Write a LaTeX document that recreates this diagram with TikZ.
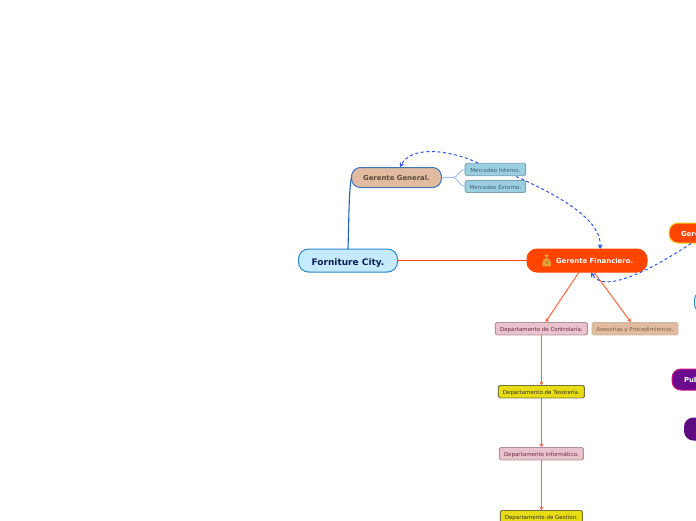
\documentclass[tikz,border=0pt]{standalone}
\usepackage{fontspec}
\setmainfont{DejaVu Sans}
\usetikzlibrary{arrows.meta}
\definecolor{orangeL}{HTML}{FF4500}
\definecolor{linkO}{HTML}{F9653C}
\definecolor{linkB}{HTML}{2A55F0}
\definecolor{tan}{HTML}{E0BBA0}
\definecolor{tanEdge}{HTML}{CDB6A0}
\definecolor{pinkish}{HTML}{E8C2CC}
\definecolor{pinkEdge}{HTML}{B58F9A}
\definecolor{teal}{HTML}{9BCFDF}
\definecolor{tealEdge}{HTML}{7FA3B3}
\definecolor{tealText}{HTML}{3F5F78}
\definecolor{yel}{HTML}{E8DC14}
\definecolor{yelEdge}{HTML}{77743A}
\definecolor{sky}{HTML}{C5EAFD}
\definecolor{skyEdge}{HTML}{2D86C8}
\definecolor{navyT}{HTML}{0B1F55}
\definecolor{ggEdge}{HTML}{3A72C0}
\definecolor{ggText}{HTML}{5A4A3A}
\definecolor{pinkT}{HTML}{6E2A40}
\definecolor{tanT}{HTML}{7A5F4A}
\definecolor{purA}{HTML}{6A0A8C}
\definecolor{purB}{HTML}{5E0A80}
\definecolor{magEdge}{HTML}{D0107A}
\definecolor{yelRim}{HTML}{F0D020}
\definecolor{mercL}{HTML}{9CC0F0}
\definecolor{bag}{HTML}{E9A23B}
\definecolor{bagD}{HTML}{A8702A}
\definecolor{fcLine}{HTML}{1A62C8}
\tikzset{
 x=1pt,y=-1pt,
 base/.style={inner sep=0pt,outer sep=0pt,align=center,anchor=center},
 topic/.style={base,draw,line width=1pt,rounded corners=9pt,text height=6pt,text depth=0pt},
 leaf/.style={base,draw,line width=.9pt,rounded corners=1.5pt,text height=5.5pt,text depth=0pt,font=\fontsize{5.5}{6}\selectfont},
 overlay text/.style={base,anchor=west,text=white,text height=6pt,text depth=0pt,font=\fontsize{6.9}{8}\bfseries\selectfont},
 orangeArrow/.style={linkO,line width=1pt,-{Stealth[length=4pt,width=4pt]}},
 dashLink/.style={linkB,line width=1pt,dash pattern=on 3pt off 2.6pt,-{Stealth[length=4.5pt,width=5pt]}},
 mercLink/.style={mercL,line width=.9pt},
}
\begin{document}
\begin{tikzpicture}
\useasboundingbox (0,0) rectangle (696,520);
\clip (0,0) rectangle (696,520);
\fill[white] (0,0) rectangle (696,520);

\node[topic,fill=sky,draw=skyEdge,minimum width=99pt,minimum height=23pt,rounded corners=10pt,text=navyT,text height=9pt,font=\fontsize{9}{10}\bfseries\selectfont] (fc) at (348,260.5) {Forniture City.};
\node[topic,fill=tan,draw=ggEdge,minimum width=90pt,minimum height=20pt,text=ggText,font=\fontsize{6.9}{8}\bfseries\selectfont] (gg) at (396.5,177.5) {Gerente General.};
\node[leaf,fill=teal,draw=tealEdge,minimum width=60.5pt,minimum height=12.5pt,text=tealText] (mi) at (495.4,169.5) {Mercadeo Interno.};
\node[leaf,fill=teal,draw=tealEdge,minimum width=60.5pt,minimum height=12pt,text=tealText] (me) at (495.4,186.5) {Mercadeo Externo.};
\node[topic,fill=orangeL,draw=orangeL,minimum width=120pt,minimum height=23pt,rounded corners=10pt] (gf) at (587,260.5) {};
\node[overlay text] (gft) at (556,260.5) {Gerente Financiero.};
% money bag icon
\fill[bag] (546.6,257.8) .. controls (551.5,259.5) and (552,265.8) .. (549.8,266.4)
  -- (543.4,266.4) .. controls (541.2,265.8) and (541.7,259.5) .. (546.6,257.8) -- cycle;
\fill[bag] (544.6,254.7) -- (548.6,254.7) -- (547.7,257.6) -- (545.5,257.6) -- cycle;
\fill[bagD] (545.2,257.3) rectangle (548,258);
\fill[bagD!70!bag] (545.6,260.5) rectangle (547.6,264);

\node[leaf,fill=pinkish,draw=pinkEdge,minimum width=92pt,minimum height=12.5pt,text=pinkT] (dc) at (541.4,328.7) {Departamento de Controlaría.};
\node[leaf,fill=tan,draw=tanEdge,minimum width=86pt,minimum height=12.5pt,text=tanT] (ap) at (635,328.7) {Asesorías y Procedimientos.};
\node[leaf,fill=yel,draw=yelEdge,minimum width=86pt,minimum height=12.5pt,text=black!80] (dt) at (541.4,391.7) {Departamento de Tesorería.};
\node[leaf,fill=pinkish,draw=pinkEdge,minimum width=84pt,minimum height=12.5pt,text=pinkT] (di) at (541.4,453.7) {Departamento Informático.};
\node[leaf,fill=yel,draw=yelEdge,minimum width=82pt,minimum height=12.5pt,text=black!80] (dg) at (541.4,516.7) {Departamento de Gestion.};

% topics that run off the page
\node[topic,fill=orangeL,draw=yelRim,minimum width=110pt,minimum height=20pt] (ge) at (724,233) {};
\node[overlay text] (get) at (681,233) {Gere};
\node[topic,fill=white,draw=skyEdge,minimum width=110pt,minimum height=22pt] (cb) at (749.5,302) {};
\node[topic,fill=purA,draw=magEdge,minimum width=110pt,minimum height=21pt] (pu) at (727,379.5) {};
\node[overlay text] (put) at (684,379.5) {Pub};
\node[topic,fill=purB,draw=purB,minimum width=110pt,minimum height=22pt] (pv) at (739.5,429) {};

% connectors
\draw[fcLine,line width=1.1pt] (fc.north) .. controls (349,215) and (349,188) .. (gg.west);
\draw[orangeL,line width=1.2pt] (fc.east) -- (gf.west);
\coordinate (fork) at (453,177.5);
\draw[mercLink] (gg.east) -- (fork) .. controls (458,177.5) and (459,169.5) .. (mi.west);
\draw[mercLink] (fork) .. controls (458,177.5) and (459,186.5) .. (me.west);

\coordinate (gfa) at (579,272.2);
\coordinate (gfb) at (594,272.2);
\coordinate (dca) at (545.5,322.2);
\coordinate (apa) at (631,322.2);
\draw[orangeArrow] (gfa) -- (dca);
\draw[orangeArrow] (gfb) -- (apa);
\draw[orangeArrow] (dc.south) -- (dt.north);
\draw[orangeArrow] (dt.south) -- (di.north);
\draw[orangeArrow] (di.south) -- (dg.north);

\coordinate (mia) at (478,163);
\coordinate (gga) at (400,167);
\coordinate (mea) at (516,176.5);
\coordinate (gfc) at (600,249);
\coordinate (gea) at (691,243.5);
\coordinate (gfd) at (591,272.5);
\draw[dashLink] (mia) .. controls (450,150) and (412,145) .. (gga);
\draw[dashLink] (mea) .. controls (565,198) and (602,222) .. (gfc);
\draw[dashLink] (gea) .. controls (660,264) and (605,296) .. (gfd);
\end{tikzpicture}
\end{document}
